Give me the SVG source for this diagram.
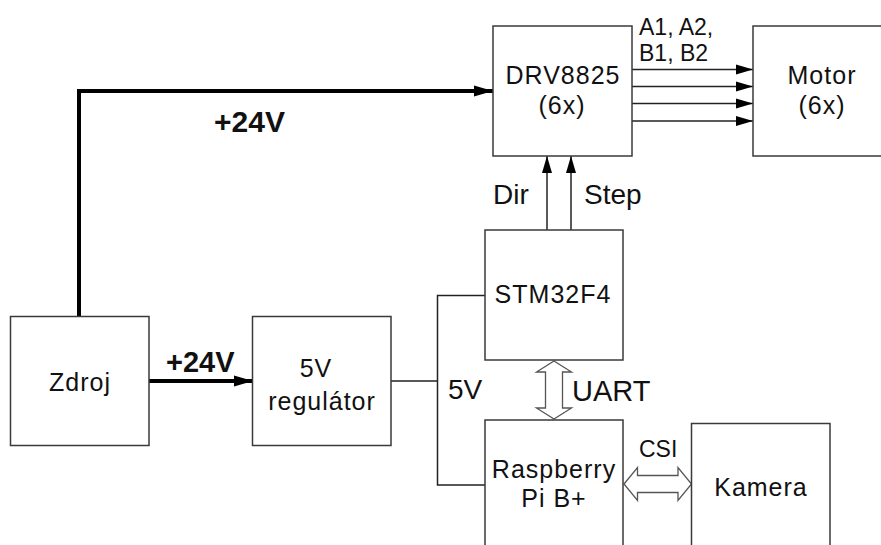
<svg xmlns="http://www.w3.org/2000/svg" width="881" height="545" viewBox="0 0 881 545">
<style>
.box{fill:#fff;stroke:#3a3a3a;stroke-width:1.5}
.t{font-family:"Liberation Sans",Arial,sans-serif;font-size:25px;letter-spacing:1px;fill:#111;text-anchor:middle}
.lbl{font-family:"Liberation Sans",Arial,sans-serif;fill:#111}
.thick{fill:none;stroke:#000;stroke-width:4}
.thin{fill:none;stroke:#222;stroke-width:1.5}
.hollow{fill:#fff;stroke:#555;stroke-width:1.3}
</style>
<defs>
<marker id="ahT" markerUnits="userSpaceOnUse" markerWidth="20" markerHeight="12" refX="19" refY="6" orient="auto">
<path d="M0,0.5 L19,6 L0,11.5 z" fill="#000"/>
</marker>
<marker id="ah" markerUnits="userSpaceOnUse" markerWidth="18" markerHeight="12" refX="17" refY="6" orient="auto">
<path d="M0,1 L17,6 L0,11 z" fill="#000"/>
</marker>
</defs>
<rect width="881" height="545" fill="#fff"/>
<g id="connectors">
<path class="thick" d="M79,317 V91 H493" marker-end="url(#ahT)"/>
<path class="thick" d="M149,381 H253" marker-end="url(#ahT)"/>
<path class="thin" d="M632,69.5 H753" marker-end="url(#ah)"/>
<path class="thin" d="M632,86.5 H753" marker-end="url(#ah)"/>
<path class="thin" d="M632,103.5 H753" marker-end="url(#ah)"/>
<path class="thin" d="M632,121 H753" marker-end="url(#ah)"/>
<path class="thin" d="M547,230 V156" marker-end="url(#ah)"/>
<path class="thin" d="M571,230 V156" marker-end="url(#ah)"/>
<path class="thin" d="M391,381 H437.5 M485,295.5 H437.5 V485 H485"/>
<polygon class="hollow" points="554,361 571.5,372 562.5,372 562.5,408 571.5,408 554,419 536.5,408 545.5,408 545.5,372 536.5,372"/>
<polygon class="hollow" points="624,484 637.5,467.5 637.5,475.5 678,475.5 678,467.5 691.5,484 678,500.5 678,492.5 637.5,492.5 637.5,500.5"/>
<text class="lbl" x="214" y="132" font-size="30" font-weight="bold">+24V</text>
<text class="lbl" x="166" y="372" font-size="29" font-weight="bold">+24V</text>
<text class="lbl" x="639" y="35" font-size="23">A1, A2,</text>
<text class="lbl" x="639" y="61" font-size="23">B1, B2</text>
<text class="lbl" x="493" y="204" font-size="28">Dir</text>
<text class="lbl" x="584" y="204" font-size="28">Step</text>
<text class="lbl" x="572" y="401" font-size="29">UART</text>
<text class="lbl" x="639" y="457" font-size="23">CSI</text>
<text class="lbl" x="448" y="399" font-size="28">5V</text>
</g>
<g id="zdroj">
<rect class="box" x="10.5" y="316.5" width="138.5" height="129"/>
<text class="t" x="80" y="391">Zdroj</text>
</g>
<g id="regulator">
<rect class="box" x="252.5" y="316.5" width="138.5" height="129"/>
<text class="t" x="316" y="377">5V</text>
<text class="t" x="322" y="410">regulátor</text>
</g>
<g id="drv8825">
<rect class="box" x="493" y="26" width="139" height="130"/>
<text class="t" x="563" y="84">DRV8825</text>
<text class="t" x="562" y="114">(6x)</text>
</g>
<g id="motor">
<rect class="box" x="753" y="26" width="140" height="130"/>
<text class="t" x="822" y="84">Motor</text>
<text class="t" x="822" y="114">(6x)</text>
</g>
<g id="stm32f4">
<rect class="box" x="485" y="230" width="138" height="130"/>
<text class="t" x="553" y="303">STM32F4</text>
</g>
<g id="raspberry">
<rect class="box" x="485" y="420" width="138" height="140"/>
<text class="t" x="554" y="478">Raspberry</text>
<text class="t" x="554" y="507">Pi B+</text>
</g>
<g id="kamera">
<rect class="box" x="691.5" y="423.5" width="138.5" height="140"/>
<text class="t" x="761" y="496">Kamera</text>
</g>
</svg>
